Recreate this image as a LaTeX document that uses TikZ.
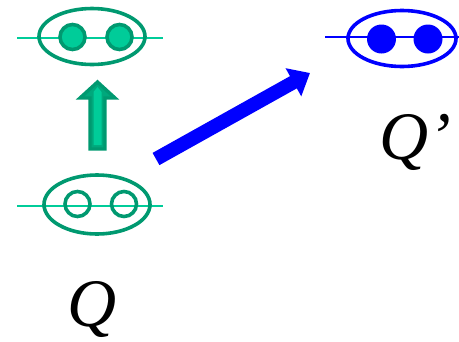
\documentclass[tikz,border=0pt]{standalone}
\usepackage{fontspec}
\setmainfont{Liberation Serif}
\usepackage{tikz}
\usetikzlibrary{arrows.meta,shapes.geometric}
\definecolor{qdark}{RGB}{0,153,112}
\definecolor{qlight}{RGB}{0,204,153}
\definecolor{qblue}{RGB}{0,0,255}
\tikzset{ring/.style={draw=#1,ellipse,line width=3.6pt,minimum width=106pt,minimum height=56pt,inner sep=0pt},
  ring/.default=qdark,
  ball/.style={circle,draw=qdark,line width=3.6pt,minimum size=25pt,inner sep=0pt},
  fullball/.style={ball,fill=qlight},
  emptyball/.style={ball},
  blueball/.style={circle,fill=qblue,minimum size=29pt,inner sep=0pt},
  axis/.style={draw=#1,line width=2.6pt},
  axis/.default=qlight,
  uparr/.style={draw=qdark,fill=qdark!70!qlight,line width=3.4pt,line join=miter},
  barr/.style={draw=qblue,line width=14pt,-{Triangle[length=19pt,width=31pt]}},
  qlabel/.style={font=\fontsize{68}{68}\selectfont\itshape,inner sep=0pt,anchor=base west}}

\begin{document}
\begin{tikzpicture}[x=1pt,y=-1pt]
\useasboundingbox (0,0) rectangle (459,341);
\coordinate (al) at (17,38); \coordinate (ar) at (163,38);
\coordinate (bl) at (17,206); \coordinate (br) at (163,206);
\coordinate (cl) at (325,37); \coordinate (cr) at (459,37);
\draw[axis] (al) -- (ar);
\draw[axis] (bl) -- (br);
\draw[axis=qblue] (cl) -- (cr);
\node[ring] (top) at (92,36.5) {};
\node[fullball] (t1) at (72.5,37) {};
\node[fullball] (t2) at (119.5,37) {};
\node[ring,minimum height=59pt] (bot) at (97,204.5) {};
\node[emptyball] (b1) at (77.5,204) {};
\node[emptyball] (b2) at (124,204) {};
\node[ring=qblue,minimum width=108pt] (right) at (402,38.5) {};
\node[blueball] (r1) at (381.5,39) {};
\node[blueball] (r2) at (428,39) {};
\coordinate (up) at (97.5,149);
\filldraw[uparr] (up) -- ++(-7.5,0) -- ++(0,-51) -- ++(-10,0) -- ++(17.5,-16) -- ++(17.5,16) -- ++(-10,0) -- ++(0,51) -- cycle;
\fill[qlight] (93.5,145) -- (93.5,92) -- (97.5,87) -- (101.5,92) -- (101.5,145) -- cycle;
\coordinate (from) at (156,159); \coordinate (to) at (310,73);
\draw[barr] (from) -- (to);
\node[qlabel] (q) at (67,326) {Q};
\node[qlabel] (qq) at (379,159) {Q’};
\end{tikzpicture}
\end{document}
